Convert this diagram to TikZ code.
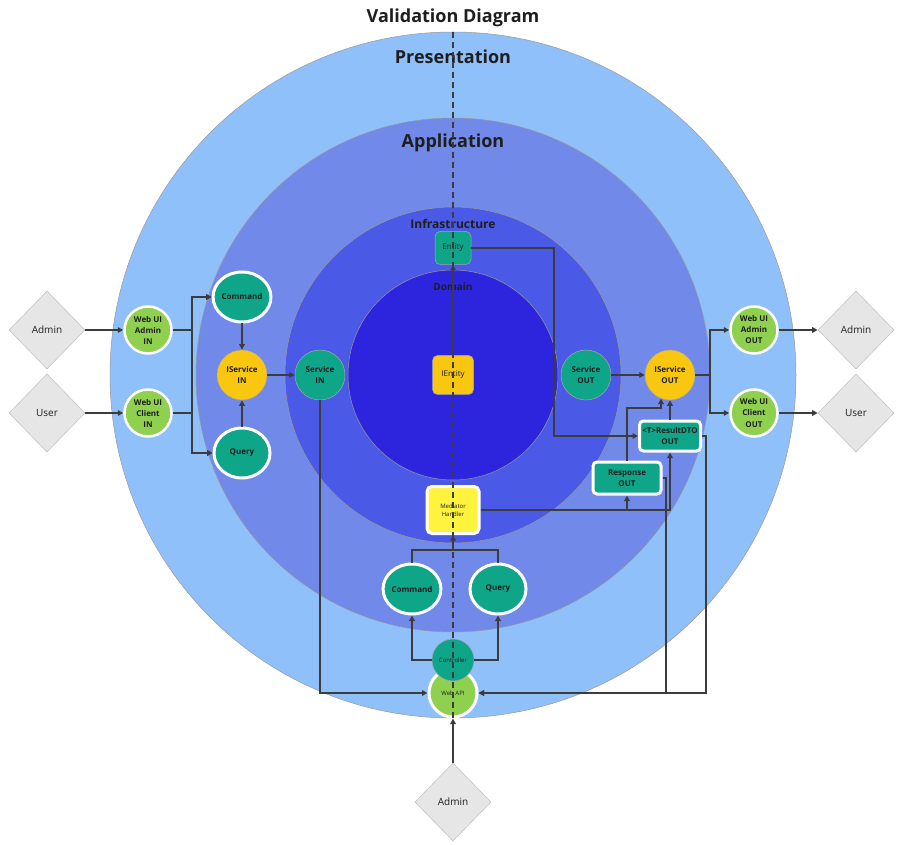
\documentclass[tikz,border=0pt]{standalone}
\usepackage{fontspec}
\setmainfont{Open Sans}
\usetikzlibrary{shapes.geometric,arrows.meta}

\definecolor{presblue}{RGB}{144,192,250}
\definecolor{appblue}{RGB}{113,137,232}
\definecolor{infblue}{RGB}{74,90,230}
\definecolor{domblue}{RGB}{45,37,222}
\definecolor{nodeteal}{RGB}{14,165,137}
\definecolor{uigreen}{RGB}{143,209,79}
\definecolor{ifyellow}{RGB}{250,199,16}
\definecolor{medyellow}{RGB}{255,243,61}
\definecolor{actorgray}{RGB}{230,230,230}
\definecolor{actorline}{RGB}{196,196,196}
\definecolor{wiregray}{RGB}{60,60,60}
\definecolor{inktext}{RGB}{30,30,30}

\begin{document}
\begin{tikzpicture}[x=1pt,y=-1pt,
  every node/.style={text=inktext},
  layer/.style={draw=black!40,line width=0.5pt},
  layertitle/.style={font=\bfseries\fontsize{18}{20}\selectfont},
  actor/.style={diamond,aspect=1,minimum width=76pt,minimum height=78pt,inner sep=0pt,fill=actorgray,draw=actorline,line width=0.6pt,font=\fontsize{10}{12}\selectfont},
  webui/.style={circle,minimum size=47pt,inner sep=0pt,fill=uigreen,draw=white,line width=2.5pt,align=center,font=\bfseries\fontsize{8}{11}\selectfont},
  cqnode/.style={ellipse,minimum width=56pt,minimum height=50pt,inner sep=0pt,fill=nodeteal,draw=white,line width=3pt,font=\bfseries\fontsize{8}{10}\selectfont},
  svcnode/.style={circle,minimum size=50pt,inner sep=0pt,fill=nodeteal,draw=black!35,line width=0.5pt,align=center,font=\bfseries\fontsize{8}{11}\selectfont},
  ifnode/.style={svcnode,fill=ifyellow},
  dtobox/.style={rectangle,rounded corners=4pt,inner sep=0pt,fill=nodeteal,draw=white,line width=3pt,align=center,font=\bfseries\fontsize{8}{11}\selectfont},
  entbox/.style={rectangle,rounded corners=5pt,inner sep=0pt,draw=black!35,line width=0.5pt,font=\fontsize{8}{10}\selectfont},
  wire/.style={draw=wiregray,line width=1.4pt,-{Triangle[length=5.5pt,width=5.5pt]}},
  plainwire/.style={draw=wiregray,line width=1.4pt},
  dashline/.style={draw=wiregray,line width=1.3pt,dash pattern=on 6pt off 4pt}]
  \fill[white] (0,0) rectangle (906,845);
  \useasboundingbox (0,0) rectangle (906,845);
  % rings
  \draw[layer,fill=presblue] (453,375) circle [radius=343];
  \draw[layer,fill=appblue] (453,375) circle [radius=257];
  \draw[layer,fill=infblue] (453,375) circle [radius=168];
  \draw[layer,fill=domblue] (453,375) circle [radius=105];
  \node[layertitle] (title) at (453,18) {Validation Diagram};
  \node[layertitle] (presLabel) at (453,57) {Presentation};
  \node[layertitle] (appLabel) at (453,143) {Application};
  \node[font=\bfseries\fontsize{12}{14}\selectfont] (infLabel) at (453,224) {Infrastructure};
  \node[font=\bfseries\fontsize{10}{12}\selectfont] (domLabel) at (453,287) {Domain};
  % left side
  \node[actor] (adminL) at (47,330) {Admin};
  \node[actor] (userL) at (47,413) {User};
  \node[webui] (webAdminIn) at (148,330) {Web UI\\Admin\\IN};
  \node[webui] (webClientIn) at (148,413) {Web UI\\Client\\IN};
  \node[cqnode] (cmdL) at (242,297) {Command};
  \node[ifnode] (isvcIn) at (242,375) {IService\\IN};
  \node[cqnode] (qryL) at (242,453) {Query};
  \node[svcnode] (svcIn) at (320,375) {Service\\IN};
  % center
  \node[entbox,fill=ifyellow,minimum width=41pt,minimum height=39pt] (iEntity) at (453,375) {IEntity};
  \node[entbox,fill=nodeteal,minimum width=36pt,minimum height=33pt] (entity) at (453,248) {Entity};
  \node[rectangle,rounded corners=5pt,inner sep=0pt,fill=medyellow,draw=white,line width=3pt,minimum width=52pt,minimum height=47pt,align=center,font=\fontsize{6}{8}\selectfont] (mediator) at (453,510) {Mediator\\Handler};
  \node[cqnode] (cmdB) at (412,589) {Command};
  \node[cqnode] (qryB) at (498,589) {Query};
  \node[circle,minimum size=48pt,inner sep=0pt,fill=uigreen,draw=white,line width=3pt,font=\fontsize{6}{8}\selectfont] (webApi) at (453,693) {Web API};
  \node[circle,minimum size=42pt,inner sep=0pt,fill=nodeteal,draw=black!35,line width=0.5pt,font=\fontsize{6}{8}\selectfont] (ctrl) at (453,660) {Controller};
  \node[actor] (adminB) at (453,802) {Admin};
  % right side
  \node[svcnode] (svcOut) at (586,375) {Service\\OUT};
  \node[ifnode] (isvcOut) at (670,375) {IService\\OUT};
  \node[dtobox,minimum width=61pt,minimum height=30pt] (dtoOut) at (670,436) {<T>ResultDTO\\OUT};
  \node[dtobox,minimum width=68pt,minimum height=32pt] (respOut) at (627,478) {Response\\OUT};
  \node[webui] (webAdminOut) at (754,330) {Web UI\\Admin\\OUT};
  \node[webui] (webClientOut) at (754,413) {Web UI\\Client\\OUT};
  \node[actor] (adminR) at (856,330) {Admin};
  \node[actor] (userR) at (856,413) {User};
  % bus points
  \coordinate (busIn) at (192,375);
  \coordinate (busEnt) at (554,300);
  \coordinate (busOut) at (710,375);
  \coordinate (busResp) at (666,600);
  \coordinate (busDto) at (706,600);
  \coordinate (respJog) at (661,408);
  \coordinate (joinMed) at (453,550);
  % connectors, input side
  \draw[wire] (adminL) -- (webAdminIn);
  \draw[wire] (userL) -- (webClientIn);
  \draw[wire] (webAdminIn.east) -- (webAdminIn.east -| busIn) |- (cmdL.west);
  \draw[wire] (webAdminIn.east) -- (webAdminIn.east -| busIn) |- (qryL.west);
  \draw[wire] (webClientIn.east) -- (webClientIn.east -| busIn) |- (cmdL.west);
  \draw[wire] (webClientIn.east) -- (webClientIn.east -| busIn) |- (qryL.west);
  \draw[wire] (cmdL) -- (isvcIn);
  \draw[wire] (qryL) -- (isvcIn);
  \draw[wire] (isvcIn) -- (svcIn);
  \draw[wire] (svcIn.south) |- (webApi.west);
  \draw[wire] (iEntity) -- (entity);
  \draw[wire] (entity.east) -- (entity.east -| busEnt) |- (dtoOut.west);
  % connectors, output side
  \draw[wire] (svcOut) -- (isvcOut);
  \draw[wire] (isvcOut.east) -- (isvcOut.east -| busOut) |- (webAdminOut.west);
  \draw[wire] (isvcOut.east) -- (isvcOut.east -| busOut) |- (webClientOut.west);
  \draw[wire] (webAdminOut) -- (adminR);
  \draw[wire] (webClientOut) -- (userR);
  \draw[wire] (dtoOut) -- (isvcOut);
  \draw[wire] (respOut.north) |- (respJog) -- (respJog |- isvcOut.-111);
  \draw[wire] (mediator.east) -| (respOut.south);
  \draw[wire] (mediator.east) -| (dtoOut.south);
  \draw[wire] (respOut.east) -- (respOut.east -| busResp) |- (webApi.east);
  \draw[wire] (dtoOut.east) -- (dtoOut.east -| busDto) |- (webApi.east);
  % connectors, web api side
  \draw[plainwire] (cmdB.north) |- (joinMed) -| (qryB.north);
  \draw[wire] (joinMed) -- (mediator.south);
  \draw[wire] (ctrl.west) -| (cmdB.south);
  \draw[wire] (ctrl.east) -| (qryB.south);
  \draw[wire] (adminB) -- (webApi);
  % center line
  \draw[dashline] (453,32) -- (453,718);
\end{tikzpicture}
\end{document}
